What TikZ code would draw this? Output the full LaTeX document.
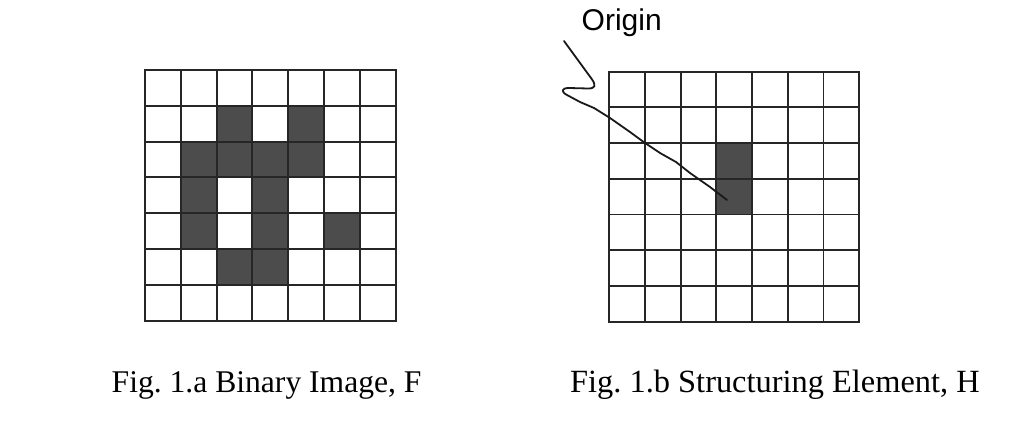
\documentclass[tikz,border=0pt]{standalone}
\usepackage{fontspec}
\setmainfont{Liberation Serif}
\newfontfamily\lsans{Liberation Sans}
\begin{document}
\begin{tikzpicture}[x=1pt,y=-1pt,
  gridline/.style={line width=1.9pt,black!85,line cap=rect},
  cellfill/.style={fill=black!70},
  caption/.style={anchor=base west,inner sep=0pt},
  leader/.style={line width=1.8pt,black!90,line join=round,line cap=round}]
\useasboundingbox (0,0) rectangle (1014,435);
% left grid
\foreach \r/\c in {1/2,1/4,2/1,2/2,2/3,2/4,3/1,3/3,4/1,4/3,4/5,5/2,5/3}
  \fill[cellfill] ({145+35.8*\c},{70+35.8*\r}) rectangle ++(35.8,35.8);
\foreach \i in {0,...,7}{
  \draw[gridline] ({145+35.8*\i},70) -- ++(0,250.6);
  \draw[gridline] (145,{70+35.8*\i}) -- ++(250.6,0);
}
% right grid
\foreach \r/\c in {2/3,3/3}
  \fill[cellfill] ({609.3+35.7*\c},{71.7+35.7*\r}) rectangle ++(35.7,35.7);
\foreach \i in {0,...,7}{
  \draw[gridline] ({609.3+35.7*\i},71.7) -- ++(0,249.9);
  \draw[gridline] (609.3,{71.7+35.7*\i}) -- ++(249.9,0);
}
% origin label and leader
\node[font=\lsans\fontsize{30}{36}\selectfont,anchor=base west,inner sep=0pt] (origin) at (581.5,31) {Origin};
\coordinate (ostart) at (564,41);
\coordinate (oend) at (727,200);
\draw[leader] (ostart) -- (591,78) .. controls (597,86) and (595,88.5) .. (588,88.5)
  -- (569,88) .. controls (561,88) and (561,92) .. (567,95)
  -- (580,102) -- (594,108) -- (610,118) -- (630,132) -- (645,143) -- (660,153)
  -- (676,162) -- (690,173) -- (710,187) -- (oend);
% captions
\node[caption,font=\fontsize{31.6}{38}\selectfont] (capa) at (111.5,392) {Fig.\ 1.a Binary Image, F};
\node[caption,font=\fontsize{32.4}{38}\selectfont] (capb) at (570,392) {Fig.\ 1.b Structuring Element, H};
\end{tikzpicture}
\end{document}
